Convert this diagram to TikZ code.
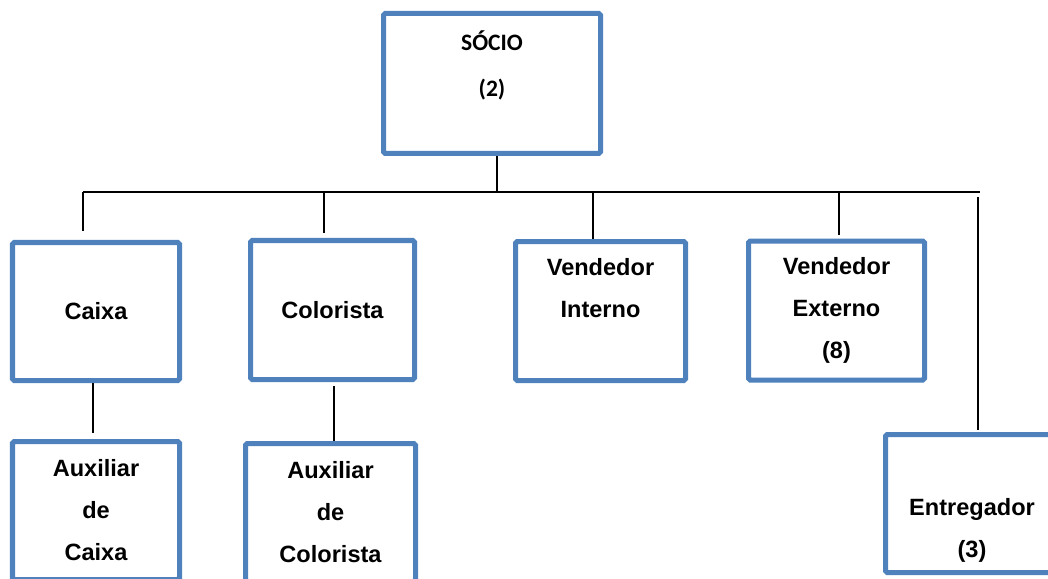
\documentclass[tikz,border=0pt]{standalone}
\usepackage{fontspec}
\setmainfont{Liberation Sans}
\newfontfamily\socfont{Carlito}
\usetikzlibrary{positioning, calc}
\definecolor{boxedge}{HTML}{4F81BD}
\definecolor{linkcol}{HTML}{000000}

\begin{document}
\begin{tikzpicture}[
    every node/.style={font=\fontsize{13.4}{23.9}\selectfont\bfseries},
    box/.style={
        rectangle, rounded corners=1pt, draw=boxedge, line width=0.1cm,
        fill=white, inner sep=0pt, align=center
    },
    headfont/.style={font=\socfont\fontsize{13.4}{26}\selectfont\bfseries},
    link/.style={draw=linkcol, line width=0.03cm},
]

\useasboundingbox (0,0) rectangle (20.96,-11.58);
\clip (0,0) rectangle (20.96,-11.58);

%% ============ TOP: SOCIO ============
\node[box, headfont, minimum width=4.34cm, minimum height=2.80cm] (socio) at (9.84,-1.67) {
    SÓCIO\\(2)\\[-0.4cm]\strut
};

%% ============ ROW 1 ============
\node[box, minimum width=3.34cm, minimum height=2.76cm] (caixa) at (1.92,-6.23) {Caixa};
\node[box, minimum width=3.28cm, minimum height=2.78cm] (colorista) at (6.65,-6.20) {Colorista};
\node[box, minimum width=3.40cm, minimum height=2.78cm] (vint) at (12.01,-6.22) {
    Vendedor\\Interno\\[-0.16cm]\strut
};
\node[box, minimum width=3.52cm, minimum height=2.78cm] (vext) at (16.73,-6.21) {
    Vendedor\\Externo\\(8)
};

%% ============ ROW 2 ============
\node[box, minimum width=3.34cm, minimum height=2.76cm] (auxcaixa) at (1.92,-10.21) {
    Auxiliar\\de\\Caixa
};
\node[box, minimum width=3.40cm, minimum height=2.76cm] (auxcolor) at (6.61,-10.25) {
    Auxiliar\\de\\Colorista
};
\node[box, minimum width=3.46cm, minimum height=2.76cm] (entreg) at (19.44,-10.07) {
    \strut\\Entregador\\(3)
};

%% ============ BUS ============
% drop points along the horizontal line under socio
\coordinate (busT) at (9.94,-3.84);
\coordinate (busL) at (1.66,-3.84);
\coordinate (busR) at (19.60,-3.84);
\coordinate (dropcol) at (6.48,-3.84);
\coordinate (dropvint) at (11.86,-3.84);
\coordinate (dropvext) at (16.78,-3.84);
\coordinate (dropent) at (19.56,-3.94);

\draw[link] (socio.south -| busT) -- (busT);
\draw[link] (busL) -- (busR);

\draw[link, shorten >=0.18cm] (busL) -- (busL |- caixa.north);
\draw[link, shorten >=0.10cm] (dropcol) -- (dropcol |- colorista.north);
\draw[link] (dropvint) -- (dropvint |- vint.north);
\draw[link, shorten >=0.08cm] (dropvext) -- (dropvext |- vext.north);
\draw[link, shorten >=0.04cm] (dropent) -- (dropent |- entreg.north);

%% ============ SUB-ROLES ============
\draw[link, shorten >=0.12cm] ([xshift=-0.06cm]caixa.south) -- ([xshift=-0.06cm]caixa.south |- auxcaixa.north);
\draw[link, shorten <=0.08cm] ([xshift=0.03cm]colorista.south) -- ([xshift=0.03cm]colorista.south |- auxcolor.north);

\end{tikzpicture}
\end{document}
